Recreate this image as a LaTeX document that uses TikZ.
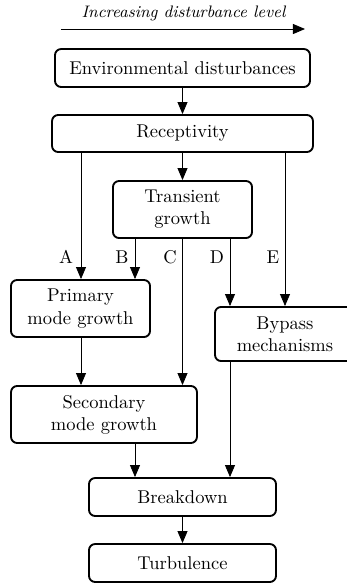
\documentclass[tikz,border=0pt]{standalone}
\usetikzlibrary{arrows.meta}
\begin{document}
\begin{tikzpicture}[x=0.54pt,y=-0.54pt,
  box/.style={draw, line width=1pt, rounded corners=3.3pt, align=center, inner sep=0pt},
  arr/.style={line width=0.45pt, -{Triangle[length=6.5pt,width=5.4pt]}},
  lbl/.style={inner sep=0pt}]
\useasboundingbox (0,0) rectangle (347,585);
\node[font=\small\itshape] (title) at (183.5,13) {Increasing disturbance level};
\coordinate (t0) at (61,29);
\coordinate (t1) at (305,29);
\draw[arr] (t0) -- (t1);

\node[box, minimum width=137.7pt, minimum height=20.5pt] (env) at (182.5,68) {Environmental disturbances};
\node[box, minimum width=140.9pt, minimum height=20pt] (rec) at (182.5,133.5) {Receptivity};
\node[box, minimum width=75.1pt, minimum height=30.8pt] (tra) at (182.5,209.5) {Transient\\growth};
\node[box, minimum width=75.1pt, minimum height=30.8pt] (pri) at (80.5,308.5) {Primary\\mode growth};
\node[box, minimum width=75.6pt, minimum height=29.2pt] (byp) at (285,334) {Bypass\\mechanisms};
\node[box, minimum width=100.4pt, minimum height=30.8pt] (sec) at (104,414.5) {Secondary\\mode growth};
\node[box, minimum width=101pt, minimum height=20.5pt] (brk) at (182.5,497) {Breakdown};
\node[box, minimum width=101pt, minimum height=20.5pt] (tur) at (182.5,563) {Turbulence};

\coordinate (xA) at (81,0);
\coordinate (xB) at (135,0);
\coordinate (xC) at (182.5,0);
\coordinate (xD) at (230,0);
\coordinate (xE) at (285,0);

\draw[arr] (env) -- (rec);
\draw[arr] (rec) -- (tra);
\draw[arr] (rec.south -| xA) -- (pri.north -| xA);
\draw[arr] (tra.south -| xB) -- (pri.north -| xB);
\draw[arr] (tra.south -| xC) -- (sec.north -| xC);
\draw[arr] (tra.south -| xD) -- (byp.north -| xD);
\draw[arr] (rec.south -| xE) -- (byp.north -| xE);
\draw[arr] (pri.south -| xA) -- (sec.north -| xA);
\draw[arr] (sec.south -| xB) -- (brk.north -| xB);
\draw[arr] (byp.south -| xD) -- (brk.north -| xD);
\draw[arr] (brk) -- (tur);

\node[lbl] (la) at (66,257) {A};
\node[lbl] (lb) at (122,257) {B};
\node[lbl] (lc) at (170,257) {C};
\node[lbl] (ld) at (217,257) {D};
\node[lbl] (le) at (273,257) {E};
\end{tikzpicture}
\end{document}
